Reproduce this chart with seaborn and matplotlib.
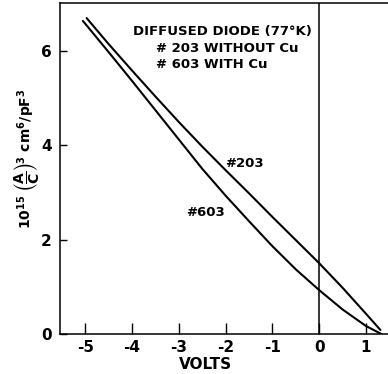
import matplotlib
matplotlib.use("Agg")
import matplotlib.pyplot as plt
import seaborn as sns
import pandas as pd

# Sample #203 (without Cu): bias voltage vs 10^15 (A/C)^3
volts_203 = [-4.97, -4.5, -4.0, -3.5, -3.0, -2.5, -2.0, -1.5, -1.0, -0.5, 0.0, 0.5, 1.0, 1.31]
capc_203 = [6.69, 6.14, 5.58, 5.03, 4.49, 3.97, 3.47, 2.98, 2.48, 1.99, 1.50, 0.98, 0.43, 0.085]

# Sample #603 (with Cu)
volts_603 = [-5.05, -4.5, -4.0, -3.5, -3.0, -2.5, -2.0, -1.5, -1.0, -0.5, 0.0, 0.5, 1.0, 1.33]
capc_603 = [6.63, 5.97, 5.36, 4.74, 4.12, 3.50, 2.93, 2.39, 1.86, 1.37, 0.93, 0.52, 0.17, 0.0]

x_ticks = [-5, -4, -3, -2, -1, 0, 1]
y_ticks = [0, 2, 4, 6]

sns.set_theme(style="ticks")
plt.rcParams["font.family"] = ["DejaVu Sans"]
plt.rcParams["font.weight"] = "bold"
plt.rcParams["mathtext.fontset"] = "dejavusans"
plt.rcParams["mathtext.default"] = "bf"
for key in ["text.color", "axes.labelcolor", "xtick.color", "ytick.color", "axes.edgecolor"]:
    plt.rcParams[key] = "black"

df = pd.concat([
    pd.DataFrame({"volts": volts_203, "val": capc_203, "sample": "#203"}),
    pd.DataFrame({"volts": volts_603, "val": capc_603, "sample": "#603"}),
])

fig = plt.figure(figsize=(3.88, 3.74), dpi=100)
ax = fig.add_axes([60 / 388, 40 / 374, 334 / 388, 331 / 374])

sns.lineplot(data=df, x="volts", y="val", units="sample", estimator=None,
             sort=False, color="black", linewidth=1.5, ax=ax)

ax.axvline(0, color="black", linewidth=1.1)

ax.set_xlim(-5.54, 1.6)
ax.set_ylim(0, 7.01)
ax.set_xticks(x_ticks)
ax.set_xticklabels(["-5", "-4", "-3", "-2", "-1", "0", "1"])
ax.set_yticks(y_ticks)

ax.tick_params(axis="x", direction="in", length=8, width=1.0, labelsize=11, pad=4)
ax.tick_params(axis="y", direction="in", length=5, width=1.0, labelsize=11, pad=6)
for side in ["left", "bottom", "top"]:
    ax.spines[side].set_linewidth(1.1)
ax.spines["right"].set_visible(False)

ax.set_xlabel("VOLTS", fontsize=11, fontweight="bold")
ax.xaxis.set_label_coords((205.7 - 60) / 334, -0.068)
ax.set_ylabel(r"$10^{15}\ \left(\dfrac{A}{C}\right)^3\ cm^6/pF^3$",
              fontsize=10)
ax.yaxis.set_label_coords((41 - 60) / 334, 0.53)

note = dict(fontsize=9.5, fontweight="bold", va="center", ha="left")
ax.text(-3.97, 6.40, "DIFFUSED DIODE (77°K)", **note)
ax.text(-3.48, 6.05, "# 203 WITHOUT Cu", **note)
ax.text(-3.48, 5.70, "# 603 WITH Cu", **note)

ax.text(-2.01, 3.62, "#203", **note)
ax.text(-2.84, 2.58, "#603", **note)

fig.savefig("out.png", dpi=100)
